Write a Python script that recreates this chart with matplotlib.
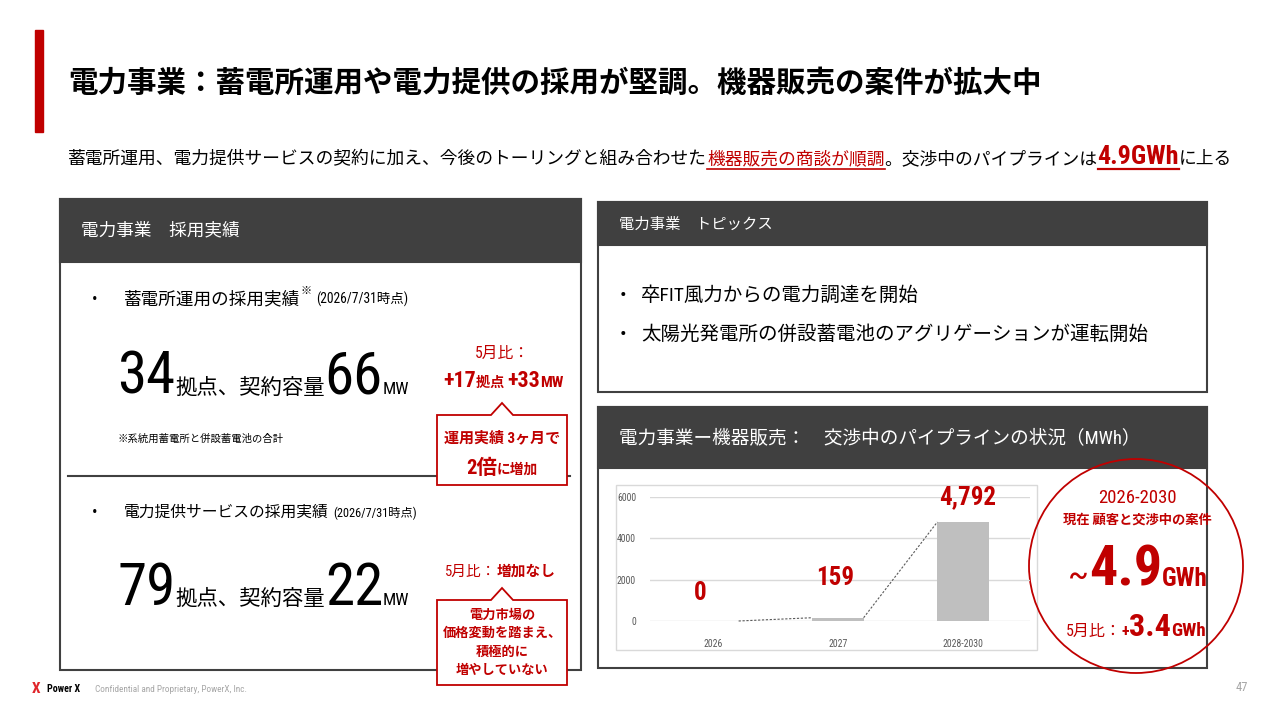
import matplotlib
matplotlib.use('Agg')
import matplotlib.pyplot as plt
from matplotlib import font_manager
from matplotlib.patches import Rectangle, Polygon, Circle

# ---- data ----
categories = ['2026', '2027', '2028-2030']
pipeline_mwh = [0, 159, 4792]
y_ticks = [0, 2000, 4000, 6000]

storage_sites, storage_mw = 34, 66
storage_diff_sites, storage_diff_mw = 17, 33
supply_sites, supply_mw = 79, 22
pipeline_gwh = 4.9
pipeline_diff_gwh = 3.4

title = '電力事業：蓄電所運用や電力提供の採用が堅調。機器販売の案件が拡大中'
topics = ['卒FIT風力からの電力調達を開始',
          '太陽光発電所の併設蓄電池のアグリゲーションが運転開始']
supply_note = ['電力市場の', '価格変動を踏まえ、', '積極的に', '増やしていない']

RED = '#C00000'
DARK = '#404040'
GRAY = '#595959'


# pick a narrow latin face if one is installed
def pick_narrow():
    found = {}
    for f in font_manager.fontManager.ttflist:
        st = f.stretch
        if 'Narrow' in f.name or 'Condensed' in f.name:
            found.setdefault(f.name, 'normal')
        elif st in ('condensed', 'semi-condensed', 'extra-condensed') or (isinstance(st, int) and st < 500):
            found.setdefault(f.name, st)
    for pref in ['Roboto Condensed', 'Liberation Sans Narrow', 'Noto Sans Condensed',
                 'Noto Sans', 'Roboto', 'Open Sans', 'Inter', 'DejaVu Sans Condensed', 'DejaVu Sans']:
        if pref in found:
            return pref, found[pref]
    if found:
        k = sorted(found)[0]
        return k, found[k]
    return 'DejaVu Sans', 'normal'


NARROW, STRETCH = pick_narrow()
JP = [NARROW, 'Noto Sans CJK JP', 'DejaVu Sans']

fig = plt.figure(figsize=(12.8, 7.2), dpi=100)
ax = fig.add_axes([0, 0, 1, 1])
ax.set_xlim(0, 1280)
ax.set_ylim(720, 0)
ax.axis('off')
renderer = fig.canvas.get_renderer()


def run(x, y, parts, ha='left', width=None):
    """draw text pieces side by side; parts = (text, size, color, weight)"""
    arts = []
    for s, size, color, weight in parts:
        arts.append(ax.text(x, y, s, fontsize=size, color=color, fontweight=weight,
                            family=JP, fontstretch=STRETCH, va='baseline', ha='left'))
    ws = [t.get_window_extent(renderer).width for t in arts]
    if width:
        k = width / sum(ws)
        for t, p in zip(arts, parts):
            t.set_fontsize(p[1] * k)
        ws = [t.get_window_extent(renderer).width for t in arts]
    x0 = x - sum(ws) / 2 if ha == 'center' else x
    spans = []
    for t, w in zip(arts, ws):
        t.set_x(x0)
        spans.append((x0, x0 + w))
        x0 += w
    return spans


def panel(x0, y0, x1, y1, head_h, label, size, ty, width=None):
    ax.add_patch(Rectangle((x0, y0), x1 - x0, y1 - y0, fc='white', ec=DARK, lw=1.5))
    ax.add_patch(Rectangle((x0, y0), x1 - x0, head_h, fc=DARK, ec=DARK, lw=1.5))
    run(x0 + 21, ty, [(label, size, 'white', 'normal')], width=width)


def callout(x0, x1, y0, y1, tip):
    cx = (x0 + x1) / 2
    pts = [(x0, y0), (cx - 11, y0), (cx, tip), (cx + 11, y0), (x1, y0), (x1, y1), (x0, y1)]
    ax.add_patch(Polygon(pts, closed=True, fc='white', ec=RED, lw=1.3, zorder=3))


# ---- header ----
ax.add_patch(Rectangle((35, 30), 8, 102, color=RED))
run(68, 92, [(title, 22, 'black', 'bold')], width=972)

sp = run(68, 164, [('蓄電所運用、電力提供サービスの契約に加え、今後のトーリングと組み合わせた', 13, 'black', 'normal'),
                   ('機器販売の商談が順調', 13, RED, 'normal'),
                   ('。交渉中のパイプラインは', 13, 'black', 'normal'),
                   (f'{pipeline_gwh}GWh', 19, RED, 'bold'),
                   ('に上る', 13, 'black', 'normal')], width=1162)
ax.plot(sp[1], [169, 169], color=RED, lw=1.2)
ax.plot(sp[3], [169, 169], color=RED, lw=1.6)

# ---- left panel ----
panel(60, 199, 581, 670, 63, '電力事業　採用実績', 13, 235, width=158)
ax.plot([68, 570], [476, 476], color=DARK, lw=1.5)

ax.text(92, 304, '•', fontsize=12, family=JP, va='baseline')
sp = run(124, 304, [('蓄電所運用の採用実績', 12.5, 'black', 'normal')], width=176)
sp = run(sp[-1][1], 294, [('※', 8, 'black', 'normal')])
run(sp[-1][1] + 5, 304, [('(2026/7/31時点)', 8.5, 'black', 'normal')], width=92)
run(117, 394, [(str(storage_sites), 44, 'black', 'normal'),
               ('拠点、契約容量', 16, 'black', 'normal'),
               (str(storage_mw), 44, 'black', 'normal'),
               ('MW', 13, 'black', 'normal')], width=293)
run(118, 442, [('※系統用蓄電所と併設蓄電池の合計', 7.5, 'black', 'normal')], width=165)

run(502, 358, [('5月比：', 11, RED, 'normal')], ha='center', width=55)
run(503, 387, [(f'+{storage_diff_sites}', 17, RED, 'bold'), ('拠点 ', 11, RED, 'bold'),
               (f'+{storage_diff_mw}', 17, RED, 'bold'), ('MW', 12, RED, 'bold')],
    ha='center', width=120)
callout(437, 567, 415, 485, 403)
run(502, 442, [('運用実績 3ヶ月で', 11, RED, 'bold')], ha='center', width=116)
run(502, 474, [('2倍', 18, RED, 'bold'), ('に増加', 12, RED, 'bold')], ha='center', width=72)

ax.text(92, 517, '•', fontsize=12, family=JP, va='baseline')
sp = run(124, 517, [('電力提供サービスの採用実績', 12.5, 'black', 'normal')], width=205)
run(sp[-1][1] + 5, 517, [('(2026/7/31時点)', 8.5, 'black', 'normal')], width=83)
run(117, 605, [(str(supply_sites), 44, 'black', 'normal'),
               ('拠点、契約容量', 16, 'black', 'normal'),
               (str(supply_mw), 44, 'black', 'normal'),
               ('MW', 13, 'black', 'normal')], width=293)

run(500, 576, [('5月比：', 11, RED, 'normal'), ('増加なし', 11, RED, 'bold')], ha='center', width=110)
callout(437, 567, 600, 685, 588)
for i, line in enumerate(supply_note):
    run(502, 619 + 18.3 * i, [(line, 9.5, RED, 'bold')], ha='center')

# ---- right top panel ----
panel(598, 202, 1207, 392, 43, '電力事業　トピックス', 12, 229, width=153)
for i, s in enumerate(topics):
    ax.text(620, 301 + 39 * i, '•', fontsize=14, family=JP, va='baseline')
    run(641, 301 + 39 * i, [(s, 14, 'black', 'normal')])

# ---- right bottom panel with chart ----
panel(598, 407, 1207, 668, 61, '電力事業ー機器販売：　交渉中のパイプラインの状況（MWh）', 13.5, 443, width=521)
ax.add_patch(Rectangle((616, 485), 421, 165, fill=False, ec='#d9d9d9', lw=1))

ax2 = fig.add_axes([650 / 1280, (720 - 621) / 720, 380 / 1280, 124 / 720])
ax2.patch.set_visible(False)
xs = list(range(len(categories)))
bw = 0.41
ax2.bar(xs, pipeline_mwh, width=bw, color='#bfbfbf', zorder=2)
for i in range(len(xs) - 1):
    ax2.plot([xs[i] + bw / 2, xs[i + 1] - bw / 2], [pipeline_mwh[i], pipeline_mwh[i + 1]],
             ls=(0, (2, 1.5)), color=GRAY, lw=0.8, zorder=3, clip_on=False)
ax2.set_xlim(-0.504, 2.536)
ax2.set_ylim(0, 6000)
ax2.set_yticks(y_ticks)
ax2.set_xticks(xs, categories)
ax2.grid(axis='y', color='#d9d9d9', lw=1, zorder=0)
for s in ax2.spines.values():
    s.set_visible(False)
ax2.tick_params(length=0, labelsize=7, labelcolor=GRAY)
ax2.tick_params(axis='x', pad=13)
ax2.tick_params(axis='y', pad=10)
for lab in ax2.get_xticklabels() + ax2.get_yticklabels():
    lab.set_family(NARROW)
    lab.set_stretch(STRETCH)

label_dx = [-0.1, -0.02, 0.04]
label_y = [1350, 2100, 6000]
for i, v in enumerate(pipeline_mwh):
    ax2.text(xs[i] + label_dx[i], label_y[i], f'{v:,}', ha='center', va='center',
             fontsize=18, fontweight='bold', color=RED, family=NARROW,
             fontstretch=STRETCH, clip_on=False)

# ---- circle ----
ax.add_patch(Circle((1136, 566), 107, fill=False, ec=RED, lw=1.3, zorder=5))
run(1137, 503, [('2026-2030', 12, RED, 'normal')], ha='center', width=78)
run(1137, 524, [('現在 顧客と交渉中の案件', 9.5, RED, 'bold')], ha='center', width=150)
run(1138, 586, [('~', 24, RED, 'normal'), (f'{pipeline_gwh}', 38, RED, 'bold'),
                ('GWh', 17, RED, 'bold')], ha='center', width=140)
run(1136, 636, [('5月比：', 11, RED, 'normal'), ('+', 11, RED, 'bold'),
                (f'{pipeline_diff_gwh}', 22, RED, 'bold'), ('GWh', 13, RED, 'bold')],
    ha='center', width=140)

# ---- footer ----
run(32, 693, [('X', 11, '#E0262B', 'bold')])
run(47, 692, [('Power X', 8, 'black', 'bold')], width=33)
run(95, 692, [('Confidential and Proprietary, PowerX, Inc.', 7, '#a6a6a6', 'normal')], width=152)
run(1236, 691, [('47', 9, '#a6a6a6', 'normal')])

fig.savefig('out.png', dpi=100)
